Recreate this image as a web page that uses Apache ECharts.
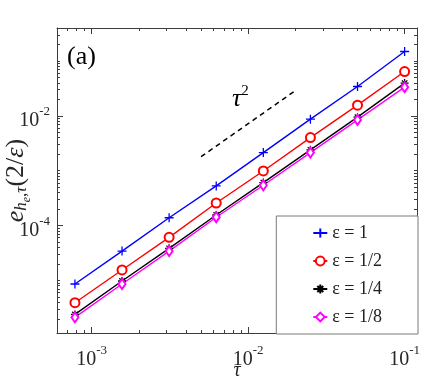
<!DOCTYPE html>
<html>
<head>
<meta charset="utf-8">
<script src="https://cdn.jsdelivr.net/npm/echarts@6/dist/echarts.min.js"></script>
<style>
  html, body { margin: 0; padding: 0; background: #fff; }
  #main { width: 436px; height: 382px; }
</style>
</head>
<body>
<div id="main"></div>
<script>
// time steps tau and error values
var tau = [0.00078125, 0.0015625, 0.003125, 0.00625, 0.0125, 0.025, 0.05, 0.1]
var errEps1 = [8.6e-6, 3.43e-5, 1.39e-4, 5.28e-4, 2.14e-3, 8.7e-3, 3.43e-2, 1.49e-1]
var errEps2 = [3.92e-6, 1.55e-5, 6.1e-5, 2.58e-4, 9.9e-4, 4.02e-3, 1.57e-2, 6.43e-2]
var errEps4 = [2.40e-6, 9.75e-6, 3.85e-5, 1.56e-4, 6.07e-4, 2.40e-3, 9.47e-3, 3.96e-2]
var errEps8 = [2.12e-6, 8.6e-6, 3.43e-5, 1.42e-4, 5.43e-4, 2.14e-3, 8.45e-3, 3.34e-2]
var seriesNames = ['ε = 1', 'ε = 1/2', 'ε = 1/4', 'ε = 1/8']

// slope reference line tau^2
var refTau = [0.005, 0.02]
var refErr = [0.0018, 0.0288]

// tick labels
var xLabelTicks = [1e-3, 1e-2, 1e-1]
var yLabelTicks = [1e-4, 1e-2]

var xMin = 6e-4, xMax = 0.12
var yMin = 1.1e-6, yMax = 0.4

var axisColor = '#3c3c3c'
var serif = 'Liberation Serif'

function minorTicks(lo, hi) {
    var out = []
    for (var e = -7; e <= 1; e++) {
        for (var k = 1; k <= 9; k++) {
            var v = k * Math.pow(10, e)
            if (v >= lo * 0.9999 && v <= hi * 1.0001) out.push(v)
        }
    }
    return out
}

function powLabel(v) {
    var ex = Math.round(Math.log10(v))
    return '{b|10}{s|' + ex + '}'
}

var labelRich = {
    b: { fontSize: 20, fontFamily: serif, color: '#262626', padding: [10, 0, 0, 0] },
    s: { fontSize: 13, fontFamily: serif, color: '#262626', padding: [0, 0, 8, 0] }
}

function makeAxis(kind, pos, lo, hi, major, withLabels) {
    var ticks = major ? (kind === 'x' ? xLabelTicks : yLabelTicks) : minorTicks(lo, hi)
    var ax = {
        type: 'log',
        logBase: 10,
        position: pos,
        min: lo,
        max: hi,
        splitLine: { show: false },
        axisLine: { show: !major, onZero: false, lineStyle: { color: axisColor, width: 1 } },
        axisTick: {
            show: true,
            inside: true,
            length: major ? 6 : 3,
            customValues: ticks,
            lineStyle: { color: axisColor, width: 1 }
        },
        axisLabel: { show: false }
    }
    if (withLabels) {
        ax.axisLabel = {
            show: true,
            customValues: kind === 'x' ? xLabelTicks : yLabelTicks,
            formatter: powLabel,
            margin: 7,
            rich: labelRich
        }
    }
    return ax
}

var xAxes = [
    makeAxis('x', 'bottom', xMin, xMax, false, true),
    makeAxis('x', 'bottom', xMin, xMax, true, false),
    makeAxis('x', 'top', xMin, xMax, false, false),
    makeAxis('x', 'top', xMin, xMax, true, false)
]
xAxes[0].name = 'τ'
xAxes[0].nameLocation = 'middle'
xAxes[0].nameGap = 28
xAxes[0].nameMoveOverlap = false
xAxes[0].nameTextStyle = { fontFamily: serif, fontStyle: 'italic', fontSize: 20, color: '#262626' }

var yAxes = [
    makeAxis('y', 'left', yMin, yMax, false, true),
    makeAxis('y', 'left', yMin, yMax, true, false),
    makeAxis('y', 'right', yMin, yMax, false, false),
    makeAxis('y', 'right', yMin, yMax, true, false)
]
// y title e_{h_e,tau}(2/eps), rotated with the axis
yAxes[0].name = '{e|e}{h|h}{ee|e}{c|,}{h|τ}{p|(2/}{ep|ε}{p|)}'
yAxes[0].nameLocation = 'middle'
yAxes[0].nameRotate = 90
yAxes[0].nameGap = 24
yAxes[0].nameMoveOverlap = false
yAxes[0].nameTextStyle = {
    color: '#262626',
    rich: {
        e: { fontSize: 26, fontFamily: serif, fontStyle: 'italic', color: '#262626' },
        h: { fontSize: 17, fontFamily: serif, fontStyle: 'italic', color: '#262626', padding: [12, 0, 0, 0] },
        ee: { fontSize: 12, fontFamily: serif, fontStyle: 'italic', color: '#262626', padding: [22, 0, 0, 0] },
        c: { fontSize: 17, fontFamily: serif, color: '#262626', padding: [12, 0, 0, 0] },
        p: { fontSize: 26, fontFamily: serif, color: '#262626' },
        ep: { fontSize: 26, fontFamily: serif, fontStyle: 'italic', color: '#262626' }
    }
}

function pairs(ys) {
    var d = []
    for (var i = 0; i < tau.length; i++) d.push([tau[i], ys[i]])
    return d
}

function lineSeries(name, ys, color, symbol, size) {
    return {
        name: name,
        type: 'line',
        data: pairs(ys),
        symbol: symbol,
        symbolSize: size,
        showAllSymbol: true,
        lineStyle: { color: color, width: 1.4 },
        itemStyle: { color: color, borderColor: color, borderWidth: 1.3 }
    }
}

var plusPath = 'path://M0,5L10,5M5,0L5,10'
var starPath = 'path://M5,0L5,10M0,5L10,5M1.6,1.6L8.4,8.4M1.6,8.4L8.4,1.6'

var refPoints = [[refTau[0], refErr[0]], [refTau[1], refErr[1]]]

var chart = echarts.init(document.getElementById('main'))
chart.setOption({
    animation: false,
    backgroundColor: '#fff',
    grid: { left: 57, right: 19, top: 28, bottom: 49, containLabel: false, outerBoundsMode: 'none' },
    xAxis: xAxes,
    yAxis: yAxes,
    legend: {
        data: seriesNames,
        orient: 'vertical',
        right: 18,
        bottom: 48,
        itemWidth: 14,
        itemHeight: 11,
        itemGap: 10,
        padding: [8, 36, 8, 36],
        backgroundColor: '#fff',
        borderColor: '#7a7a7a',
        borderWidth: 1,
        borderRadius: 0,
        textStyle: { fontFamily: serif, fontSize: 18, color: '#222' }
    },
    graphic: [{
        type: 'text',
        left: 67,
        top: 44,
        style: { text: '(a)', font: '26px "Liberation Serif"', fill: '#000' }
    }, {
        type: 'text',
        left: 232,
        top: 84,
        style: {
            text: '{t|τ}{s|2}',
            rich: {
                t: { fontSize: 26, fontFamily: serif, fontStyle: 'italic', fill: '#000' },
                s: { fontSize: 15, fontFamily: serif, fill: '#000', padding: [0, 0, 16, 0] }
            }
        }
    }],
    series: [
        lineSeries(seriesNames[0], errEps1, '#0000ff', plusPath, 9),
        lineSeries(seriesNames[1], errEps2, '#ff0000', 'emptyCircle', 9),
        lineSeries(seriesNames[2], errEps4, '#000000', starPath, 8),
        lineSeries(seriesNames[3], errEps8, '#ff00ff', 'emptyDiamond', [7, 10]),
        {
            name: 'ref',
            type: 'line',
            data: refPoints,
            symbol: 'none',
            lineStyle: { color: '#000', width: 1.5, type: [5, 4] },
            z: 1
        }
    ]
})
</script>
</body>
</html>
